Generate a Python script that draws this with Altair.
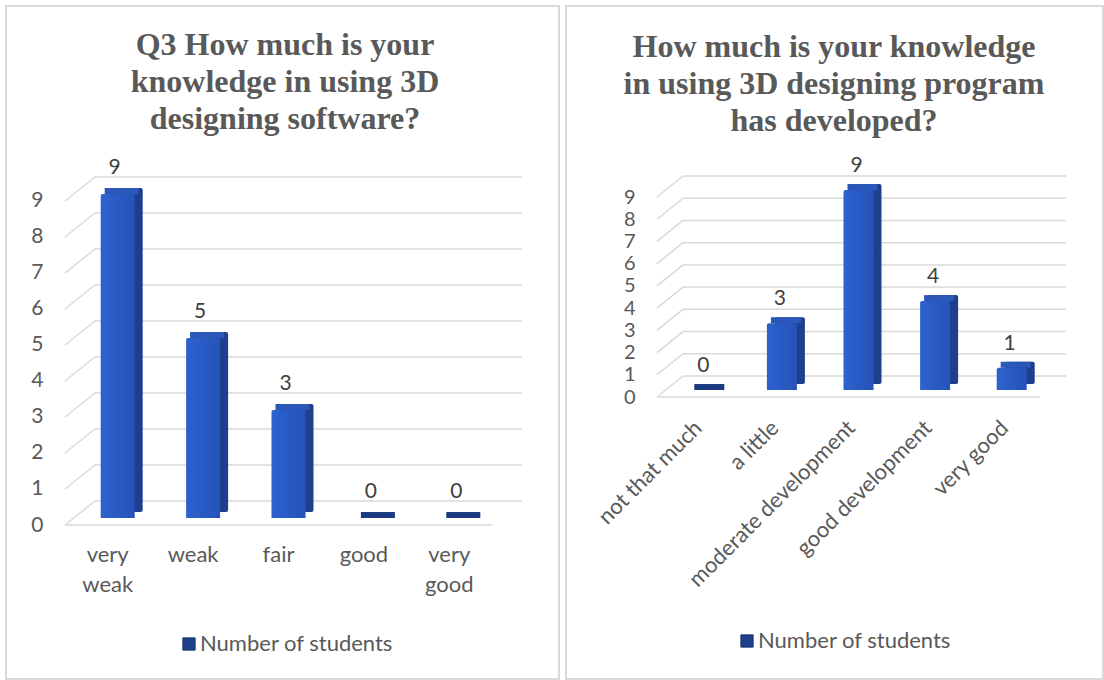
import altair as alt
import pandas as pd

# ---- data ----
left_categories = ["very weak", "weak", "fair", "good", "very good"]
left_values = [9, 5, 3, 0, 0]
right_categories = ["not that much", "a little", "moderate development", "good development", "very good"]
right_values = [0, 3, 9, 4, 1]
series_name = "Number of students"
tick_values = [0, 1, 2, 3, 4, 5, 6, 7, 8, 9]
left_title = "Q3 How much is your\nknowledge in using 3D\ndesigning software?"
right_title = "How much is your knowledge\nin using 3D designing program\nhas developed?"

SANS = "Lato"
SERIF = "Liberation Serif"
GRAY = "#595959"
GRID = "#d9d9d9"
FS = 21
FRONT_GRAD = alt.Gradient(
    gradient="linear",
    stops=[alt.GradientStop(color="#2d62cf", offset=0), alt.GradientStop(color="#2553b8", offset=1)],
    x1=0, x2=1, y1=0, y2=0,
)


def panel(categories, values, title, W, H, ymax, bx, by, bar_w, border, title_xy,
          legend_xy, label_angle, label_dx, label_dy, xlabel_pad, label_expr, yfs):
    df = pd.DataFrame({"category": categories, "value": values, "zero": 0, "series": series_name})
    ticks = pd.DataFrame({"tick": tick_values})
    one = alt.Data(values=[{"k": 1}])

    xs = alt.Scale(domain=categories, paddingInner=0, paddingOuter=0)
    ys = alt.Scale(domain=[0, ymax], nice=False, zero=True)

    x_axis = alt.Axis(
        domain=False, ticks=False, tickSize=0, grid=False, labelAngle=label_angle,
        labelFont=SANS, labelFontSize=22, labelColor=GRAY, labelPadding=xlabel_pad,
        labelLineHeight=30, labelExpr=label_expr, labelLimit=400, zindex=1,
        labelAlign="right" if label_angle else "center",
        labelBaseline="middle" if label_angle else "top",
        labelOffset=3 if label_angle else 0,
    )
    y_axis = alt.Axis(
        values=tick_values, domain=False, ticks=False, tickSize=0, grid=False, zindex=1,
        labelFont=SANS, labelFontSize=yfs, labelColor=GRAY, labelPadding=22,
    )

    def yq(field):
        return alt.Y(field, scale=ys, title=None, axis=y_axis, stack=None)

    xenc = alt.X("category:N", scale=xs, sort=categories, title=None, axis=x_axis)

    bl, bt, br, bb = border
    frame = alt.Chart(one).mark_rect(fill="transparent", stroke=GRID, strokeWidth=2).encode(
        x=alt.value(bl), x2=alt.value(br), y=alt.value(bt), y2=alt.value(bb)
    )

    back_grid = alt.Chart(ticks).mark_rule(color=GRID, strokeWidth=1.5, yOffset=by).encode(
        x=alt.value(bx), x2=alt.value(W + bx), y=yq("tick:Q"),
    )
    diag = alt.Chart(ticks).mark_rule(color=GRID, strokeWidth=1.5, y2Offset=by).encode(
        x=alt.value(0), x2=alt.value(bx), y=yq("tick:Q"), y2=alt.Y2("tick"),
    )
    floor = alt.Chart(one).mark_rule(color=GRID, strokeWidth=1.5).encode(
        x=alt.value(0), x2=alt.value(W), y=alt.value(H)
    )

    base = alt.Chart(df)

    side = base.mark_bar(size=bar_w, xOffset=10 + 8, yOffset=-13, y2Offset=-13, cornerRadius=2).encode(
        x=xenc,
        y=yq("value:Q"),
        y2=alt.Y2("zero:Q"),
        color=alt.Color(
            "series:N",
            scale=alt.Scale(domain=[series_name], range=["#1e3f8c"]),
            legend=alt.Legend(
                orient="none", legendX=legend_xy[0], legendY=legend_xy[1], title=None,
                symbolType="square", symbolSize=150, symbolStrokeColor="#1a3370",
                symbolStrokeWidth=1, symbolOpacity=1, labelFont=SANS, labelFontSize=22,
                labelColor=GRAY, labelLimit=400, labelOffset=0,
            ),
        ),
    )
    top = base.mark_tick(orient="horizontal", thickness=6, size=bar_w, xOffset=10 + 4, yOffset=-10,
                         opacity=1).encode(
        x=xenc,
        y=yq("value:Q"),
        color=alt.condition(alt.datum.value == 0, alt.value("#1c3a80"), alt.value("#2b57b8")),
    )
    front = base.mark_bar(size=bar_w, xOffset=10, yOffset=-7, y2Offset=-7, color=FRONT_GRAD,
                          cornerRadiusTopLeft=2).encode(
        x=xenc, y=yq("value:Q"), y2=alt.Y2("zero:Q"),
    )
    labels = base.mark_text(dx=label_dx, dy=label_dy, font=SANS, fontSize=FS, color="#404040").encode(
        x=xenc, y=yq("value:Q"), text="value:Q"
    )
    ttl = alt.Chart(one).mark_text(
        text=title, lineBreak="\n", lineHeight=37, font=SERIF, fontWeight="bold",
        fontSize=32, color=GRAY, align="center", baseline="middle",
    ).encode(x=alt.value(title_xy[0]), y=alt.value(title_xy[1]))

    return alt.layer(frame, back_grid, diag, floor, side, top, front, labels, ttl).properties(
        width=W, height=H
    )


left = panel(
    left_categories, left_values, left_title,
    W=427, H=328, ymax=9.111, bx=30, by=-24, bar_w=34,
    border=(-59, -191, 494, 482), title_xy=(220, -152), legend_xy=(113, 436),
    label_angle=0, label_dx=7, label_dy=-33, xlabel_pad=19,
    label_expr="split(datum.label, ' ')", yfs=21,
)
right = panel(
    right_categories, right_values, right_title,
    W=383, H=200, ymax=9, bx=26, by=-21, bar_w=30,
    border=(-91, -191, 446, 482), title_xy=(177, -150), legend_xy=(79, 433),
    label_angle=-45, label_dx=8, label_dy=-31, xlabel_pad=27,
    label_expr="datum.label", yfs=20,
)

chart = (
    alt.hconcat(left, right, spacing=165, bounds="flush")
    .resolve_scale(color="independent", x="independent", y="independent")
    .properties(padding={"left": 5, "top": 5, "right": 0, "bottom": 0}, background="white")
    .configure_view(stroke=None)
)

chart.save("out.html", embed_options={"renderer": "svg", "actions": False})
